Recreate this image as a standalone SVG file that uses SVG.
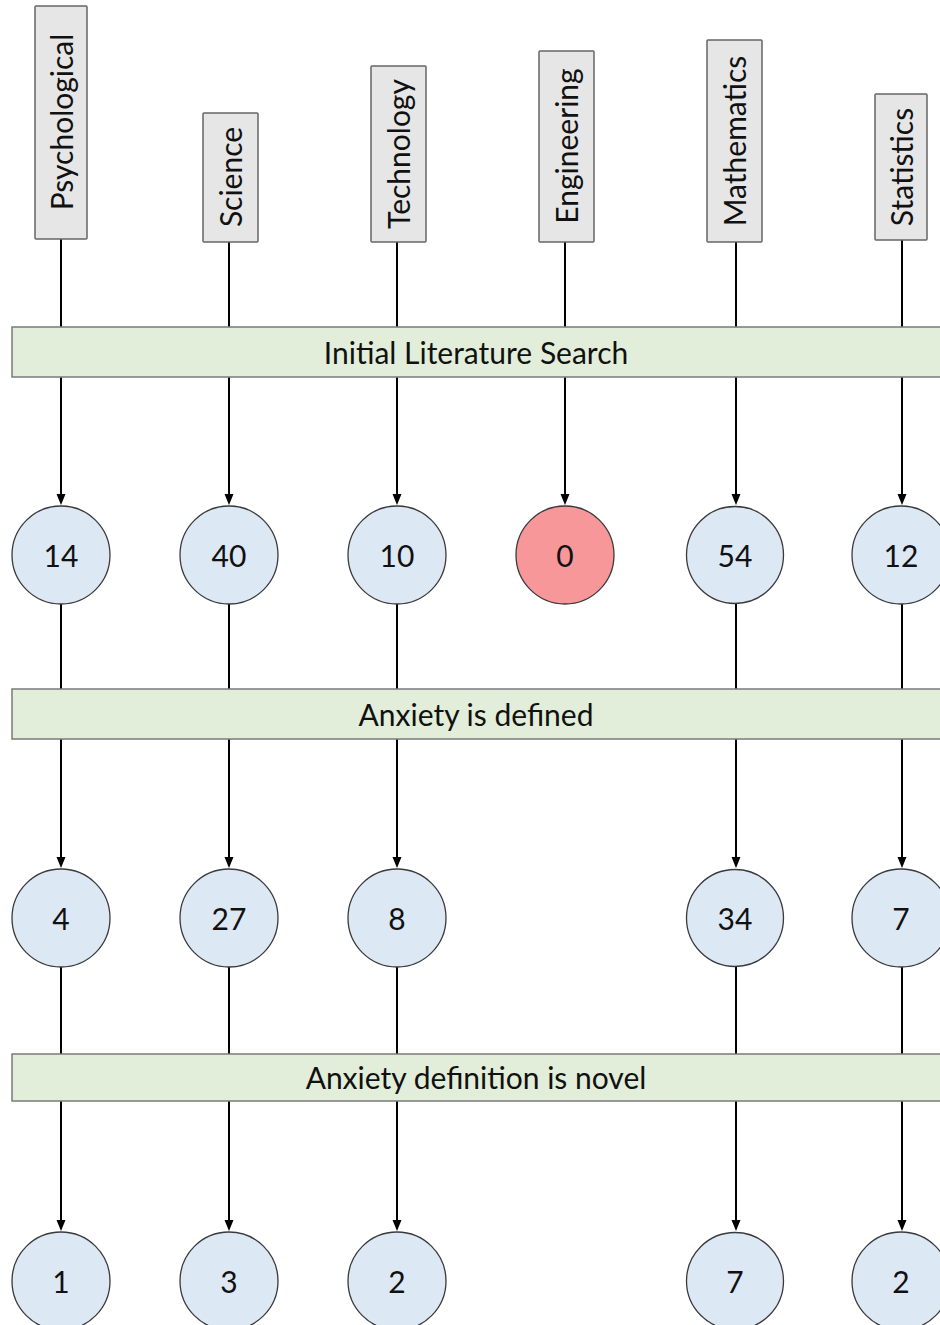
<svg xmlns="http://www.w3.org/2000/svg" width="940" height="1325" viewBox="0 0 940 1325">
<style>
.cat{fill:#e6e6e6;stroke:#666;stroke-width:1.5}
.band{fill:#e2eed9;stroke:#7a7a7a;stroke-width:1.5}
.num{fill:#dde8f5;stroke:#3a3a3a;stroke-width:1.3}
.zero{fill:#f8979a;stroke:#3a3a3a;stroke-width:1.3}
text{font-family:Lato,"Open Sans","Liberation Sans",sans-serif;font-size:30px;fill:#111;text-anchor:middle;dominant-baseline:central}
.conn line{stroke:#000;stroke-width:2}
</style>
<defs>
<marker id="arr" markerUnits="userSpaceOnUse" markerWidth="12" markerHeight="10" refX="6" refY="4.5" orient="auto">
<path d="M0,0 L11,4.5 L0,9 z" fill="#000"/>
</marker>
</defs>
<g id="connectors" class="conn">
<line x1="61" y1="239" x2="61" y2="327"/>
<line x1="229" y1="242" x2="229" y2="327"/>
<line x1="397" y1="242" x2="397" y2="327"/>
<line x1="565" y1="242" x2="565" y2="327"/>
<line x1="736" y1="242" x2="736" y2="327"/>
<line x1="902" y1="240" x2="902" y2="327"/>
<line x1="61" y1="377" x2="61" y2="500" marker-end="url(#arr)"/>
<line x1="229" y1="377" x2="229" y2="500" marker-end="url(#arr)"/>
<line x1="397" y1="377" x2="397" y2="500" marker-end="url(#arr)"/>
<line x1="565" y1="377" x2="565" y2="500" marker-end="url(#arr)"/>
<line x1="736" y1="377" x2="736" y2="500" marker-end="url(#arr)"/>
<line x1="902" y1="377" x2="902" y2="500" marker-end="url(#arr)"/>
<line x1="61" y1="604" x2="61" y2="689"/>
<line x1="229" y1="604" x2="229" y2="689"/>
<line x1="397" y1="604" x2="397" y2="689"/>
<line x1="736" y1="604" x2="736" y2="689"/>
<line x1="902" y1="604" x2="902" y2="689"/>
<line x1="61" y1="739" x2="61" y2="863" marker-end="url(#arr)"/>
<line x1="229" y1="739" x2="229" y2="863" marker-end="url(#arr)"/>
<line x1="397" y1="739" x2="397" y2="863" marker-end="url(#arr)"/>
<line x1="736" y1="739" x2="736" y2="863" marker-end="url(#arr)"/>
<line x1="902" y1="739" x2="902" y2="863" marker-end="url(#arr)"/>
<line x1="61" y1="967" x2="61" y2="1054"/>
<line x1="229" y1="967" x2="229" y2="1054"/>
<line x1="397" y1="967" x2="397" y2="1054"/>
<line x1="736" y1="967" x2="736" y2="1054"/>
<line x1="902" y1="967" x2="902" y2="1054"/>
<line x1="61" y1="1101" x2="61" y2="1226" marker-end="url(#arr)"/>
<line x1="229" y1="1101" x2="229" y2="1226" marker-end="url(#arr)"/>
<line x1="397" y1="1101" x2="397" y2="1226" marker-end="url(#arr)"/>
<line x1="736" y1="1101" x2="736" y2="1226" marker-end="url(#arr)"/>
<line x1="902" y1="1101" x2="902" y2="1226" marker-end="url(#arr)"/>
</g>
<g id="cat-psychological"><rect class="cat" x="35" y="6" width="52" height="233" rx="1"/><text transform="translate(61,122) rotate(-90)">Psychological</text></g>
<g id="cat-science"><rect class="cat" x="203" y="113" width="55" height="129" rx="1"/><text transform="translate(230,177) rotate(-90)">Science</text></g>
<g id="cat-technology"><rect class="cat" x="371" y="66" width="55" height="176" rx="1"/><text transform="translate(398,154) rotate(-90)">Technology</text></g>
<g id="cat-engineering"><rect class="cat" x="539" y="51" width="55" height="191" rx="1"/><text transform="translate(566,146) rotate(-90)">Engineering</text></g>
<g id="cat-mathematics"><rect class="cat" x="707" y="40" width="55" height="202" rx="1"/><text transform="translate(734,141) rotate(-90)">Mathematics</text></g>
<g id="cat-statistics"><rect class="cat" x="875" y="94" width="52" height="146" rx="1"/><text transform="translate(901,167) rotate(-90)">Statistics</text></g>
<g id="band-initial"><rect class="band" x="12" y="327" width="935" height="50"/><text x="476" y="352">Initial Literature Search</text></g>
<g id="band-defined"><rect class="band" x="12" y="689" width="935" height="50"/><text x="476" y="714">Anxiety is defined</text></g>
<g id="band-novel"><rect class="band" x="12" y="1054" width="935" height="47"/><text x="476" y="1077">Anxiety definition is novel</text></g>
<g id="r1-psych"><circle class="num" cx="61" cy="555" r="49"/><text x="61" y="555">14</text></g>
<g id="r1-science"><circle class="num" cx="229" cy="555" r="49"/><text x="229" y="555">40</text></g>
<g id="r1-tech"><circle class="num" cx="397" cy="555" r="49"/><text x="397" y="555">10</text></g>
<g id="r1-eng"><circle class="zero" cx="565" cy="555" r="49"/><text x="565" y="555">0</text></g>
<g id="r1-math"><circle class="num" cx="735" cy="555" r="48.5"/><text x="735" y="555">54</text></g>
<g id="r1-stat"><circle class="num" cx="901" cy="555" r="49"/><text x="901" y="555">12</text></g>
<g id="r2-psych"><circle class="num" cx="61" cy="918" r="49"/><text x="61" y="918">4</text></g>
<g id="r2-science"><circle class="num" cx="229" cy="918" r="49"/><text x="229" y="918">27</text></g>
<g id="r2-tech"><circle class="num" cx="397" cy="918" r="49"/><text x="397" y="918">8</text></g>
<g id="r2-math"><circle class="num" cx="735" cy="918" r="48.5"/><text x="735" y="918">34</text></g>
<g id="r2-stat"><circle class="num" cx="901" cy="918" r="49"/><text x="901" y="918">7</text></g>
<g id="r3-psych"><circle class="num" cx="61" cy="1281" r="49"/><text x="61" y="1281">1</text></g>
<g id="r3-science"><circle class="num" cx="229" cy="1281" r="49"/><text x="229" y="1281">3</text></g>
<g id="r3-tech"><circle class="num" cx="397" cy="1281" r="49"/><text x="397" y="1281">2</text></g>
<g id="r3-math"><circle class="num" cx="735" cy="1281" r="48.5"/><text x="735" y="1281">7</text></g>
<g id="r3-stat"><circle class="num" cx="901" cy="1281" r="49"/><text x="901" y="1281">2</text></g>
</svg>
